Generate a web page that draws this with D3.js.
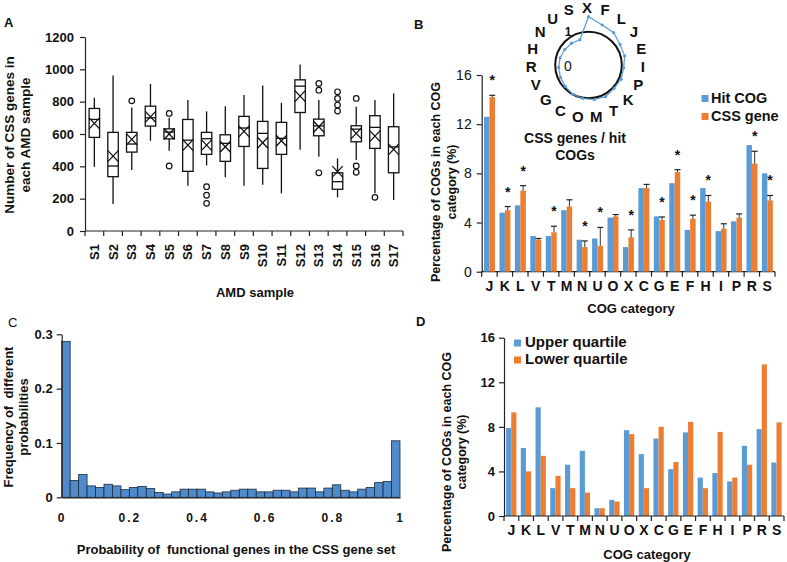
<!DOCTYPE html>
<html>
<head>
<meta charset="utf-8">
<script src="https://cdn.jsdelivr.net/npm/d3@7"></script>
<style>
  body { margin: 0; background: #fff; }
  text { font-family: Arial, "Liberation Sans", sans-serif; fill: #111; white-space: pre; }
</style>
</head>
<body>
<svg id="fig" width="787" height="562"></svg>
<script>
// ---- A: CSS genes per AMD sample (box plot stats)
const samples = ["S1","S2","S3","S4","S5","S6","S7","S8","S9","S10","S11","S12","S13","S14","S15","S16","S17"];
const whiskerLo = [397,167,377,558,496,280,406,332,280,286,233,502,459,208,439,233,192];
const q1 =        [579,336,488,649,570,369,474,431,523,387,474,733,589,258,552,511,360];
const medianA =   [690,402,538,700,612,562,571,542,637,604,573,896,650,305,630,641,520];
const q3 =        [758,610,610,772,632,690,610,595,709,678,672,935,692,360,651,713,645];
const whiskerHi = [824,962,764,910,700,810,740,772,842,900,793,1030,810,449,768,810,851];
const meanA =     [666,463,567,706,600,531,531,521,616,546,558,834,645,367,604,587,505];
const outliers = [[],[],[805],[],[727,402],[],[274,221,171],[],[],[],[],[],[913,871,360],[861,820,779,742],[820,402,363],[208],[]];

// ---- B: COG category percentages
const cogCats = ["J","K","L","V","T","M","N","U","O","X","C","G","E","F","H","I","P","R","S"];
const hitCOG  = [12.6,4.8,5.4,2.9,2.9,5.0,2.6,2.7,4.4,2.0,6.8,4.5,7.2,3.4,6.8,3.3,4.1,10.3,8.0];
const cssGene = [14.2,5.0,6.6,2.6,3.2,5.3,2.0,2.1,4.5,2.8,6.8,4.2,8.1,4.3,5.7,3.5,4.4,8.8,5.8];
const cssErr  = [0.15,0.3,0.4,0.1,0.5,0.55,0.5,1.5,0.15,0.6,0.3,0.25,0.2,0.3,0.5,0.4,0.3,1.0,0.4];
const signif  = [1,1,1,0,1,0,1,1,0,1,0,1,1,1,1,0,0,1,1];

// ---- B inset: CSS genes / hit COGs (radar)
const radarCats  = ["X","F","L","J","E","I","P","K","T","M","O","C","G","V","R","H","N","U","S"];
const radarRatio = [1.45,1.27,1.23,1.13,1.12,1.06,1.07,1.04,1.08,1.05,1.02,1.0,0.95,0.92,0.9,0.88,0.85,0.83,0.8];

// ---- C: probability histogram (40 bins of 0.025)
const probFreq = [0.287,0.031,0.042,0.021,0.018,0.024,0.021,0.014,0.018,0.020,
                  0.016,0.009,0.006,0.010,0.015,0.015,0.015,0.010,0.008,0.010,
                  0.013,0.015,0.015,0.010,0.010,0.013,0.013,0.010,0.017,0.017,
                  0.010,0.017,0.023,0.013,0.010,0.015,0.018,0.027,0.029,0.104];

// ---- D: quartile COG percentages
const upperQ = [7.9,6.1,9.75,2.5,4.6,5.85,0.7,1.45,7.7,5.55,6.95,4.2,7.5,3.45,3.85,3.1,6.3,7.8,4.8];
const lowerQ = [9.3,4.0,5.4,3.6,2.5,2.1,0.7,1.3,7.35,2.5,8.0,4.85,8.45,2.5,7.55,3.45,4.6,13.6,8.4];

const BLUE = "#5b9bd5", ORANGE = "#ed7d31";
const svg = d3.select("#fig");
svg.append("rect").attr("width", 787).attr("height", 562).attr("fill", "#fff");

function label(g, x, y, txt, size, opts = {}) {
  return g.append("text")
    .attr("x", x).attr("y", y)
    .attr("text-anchor", opts.anchor || "start")
    .style("font-size", size + "px")
    .style("font-weight", opts.bold === false ? "normal" : "bold")
    .text(txt);
}
function vTitle(g, lines, xs, cy, size) {
  lines.forEach((t, i) => {
    g.append("text")
      .attr("transform", `translate(${xs[i]},${cy}) rotate(-90)`)
      .attr("text-anchor", "middle")
      .style("font-size", size + "px")
      .style("font-weight", "bold")
      .text(t);
  });
}
function styleAxis(ax, size, bold) {
  ax.selectAll("path, line").attr("stroke", "#222").attr("stroke-width", 1.2);
  ax.selectAll("text")
    .style("font-family", 'Arial, "Liberation Sans", sans-serif')
    .style("font-size", size + "px")
    .style("font-weight", bold ? "bold" : "normal")
    .attr("fill", "#111");
}
function bandTicks(g, x, y0, len) {
  const edges = x.domain().map(d => x(d)).concat([x.range()[1]]);
  g.selectAll(null).data(edges).enter().append("line")
    .attr("x1", d => d).attr("x2", d => d)
    .attr("y1", y0).attr("y2", y0 + len)
    .attr("stroke", "#222").attr("stroke-width", 1.2);
  g.append("line").attr("x1", x.range()[0]).attr("x2", x.range()[1])
    .attr("y1", y0).attr("y2", y0).attr("stroke", "#222").attr("stroke-width", 1.2);
}

// ================= Panel A =================
{
  const g = svg.append("g");
  const y = d3.scaleLinear().domain([0, 1200]).range([231, 37]);
  const x = d3.scaleBand().domain(samples).range([85, 403]);
  const bw = x.bandwidth() * 0.56;

  const ay = g.append("g").attr("transform", "translate(85,0)")
    .call(d3.axisLeft(y).tickValues(d3.range(0, 1201, 200)).tickFormat(d3.format("d"))
      .tickSize(5).tickSizeOuter(0).tickPadding(6));
  styleAxis(ay, 13, true);
  bandTicks(g, x, 231, 5);

  samples.forEach((s, i) => {
    const cx = x(s) + x.bandwidth() / 2;
    const bx = g.append("g");
    bx.append("line").attr("x1", cx).attr("x2", cx).attr("y1", y(whiskerHi[i])).attr("y2", y(q3[i]));
    bx.append("line").attr("x1", cx).attr("x2", cx).attr("y1", y(q1[i])).attr("y2", y(whiskerLo[i]));
    bx.append("rect").attr("x", cx - bw / 2).attr("y", y(q3[i]))
      .attr("width", bw).attr("height", y(q1[i]) - y(q3[i])).attr("fill", "#fff");
    bx.append("line").attr("x1", cx - bw / 2).attr("x2", cx + bw / 2).attr("y1", y(medianA[i])).attr("y2", y(medianA[i]));
    const my = y(meanA[i]), hx = bw / 2, hy = 5.5;
    bx.append("line").attr("x1", cx - hx).attr("x2", cx + hx).attr("y1", my - hy).attr("y2", my + hy);
    bx.append("line").attr("x1", cx - hx).attr("x2", cx + hx).attr("y1", my + hy).attr("y2", my - hy);
    bx.selectAll("line, rect").attr("stroke", "#111").attr("stroke-width", 1.3);
    outliers[i].forEach(v => {
      g.append("circle").attr("cx", cx).attr("cy", y(v)).attr("r", 2.8)
        .attr("fill", "#fff").attr("stroke", "#111").attr("stroke-width", 1.2);
    });
    g.append("text")
      .attr("transform", `translate(${cx},244) rotate(-90)`)
      .attr("text-anchor", "end").attr("dy", "0.35em")
      .style("font-size", "13px").style("font-weight", "bold").text(s);
  });

  vTitle(g, ["Number of CSS genes in", "each AMD sample"], [14, 30], 135, 13.5);
  label(g, 255, 297, "AMD sample", 13, { anchor: "middle" });
  label(g, 4, 27, "A", 13);
}

// ================= Panel B =================
{
  const g = svg.append("g");
  const y = d3.scaleLinear().domain([0, 16]).range([271.7, 75]);
  const x = d3.scaleBand().domain(cogCats).range([481.7, 775]);
  const inner = d3.scaleBand().domain(["hit", "css"]).range([x.bandwidth() * 0.15, x.bandwidth() * 0.86]);

  const ay = g.append("g").attr("transform", "translate(481.7,0)")
    .call(d3.axisLeft(y).tickValues([0, 4, 8, 12, 16]).tickSize(5).tickSizeOuter(0).tickPadding(5));
  styleAxis(ay, 14, false);
  bandTicks(g, x, 271.7, 5);

  cogCats.forEach((c, i) => {
    const x0 = x(c);
    g.append("rect").attr("x", x0 + inner("hit")).attr("y", y(hitCOG[i]))
      .attr("width", inner.bandwidth()).attr("height", y(0) - y(hitCOG[i])).attr("fill", BLUE);
    g.append("rect").attr("x", x0 + inner("css")).attr("y", y(cssGene[i]))
      .attr("width", inner.bandwidth()).attr("height", y(0) - y(cssGene[i])).attr("fill", ORANGE);
    const ex = x0 + inner("css") + inner.bandwidth() / 2;
    const top = y(cssGene[i] + cssErr[i]);
    g.append("line").attr("x1", ex).attr("x2", ex).attr("y1", y(cssGene[i])).attr("y2", top)
      .attr("stroke", "#333").attr("stroke-width", 1);
    g.append("line").attr("x1", ex - 3).attr("x2", ex + 3).attr("y1", top).attr("y2", top)
      .attr("stroke", "#222").attr("stroke-width", 1.2);
    if (signif[i]) label(g, ex, top - 10, "*", 14, { anchor: "middle" });
    label(g, x0 + x.bandwidth() / 2, 291, c, 14, { anchor: "middle" });
  });

  // legend
  g.append("rect").attr("x", 701.5).attr("y", 95).attr("width", 7).attr("height", 7).attr("fill", BLUE);
  label(g, 711, 102.5, "Hit COG", 14.5);
  g.append("rect").attr("x", 701.5).attr("y", 113).attr("width", 7).attr("height", 7).attr("fill", ORANGE);
  label(g, 711, 120.5, "CSS gene", 14.5);

  vTitle(g, ["Percentage of COGs in each COG", "category (%)"], [440, 456], 182, 12.5);
  label(g, 631, 313, "COG category", 13, { anchor: "middle" });
  label(g, 414, 29, "B", 13);

  // radar inset
  const cx = 588.5, cy = 65;
  const r = d3.scaleLinear().domain([0, 1]).range([0, 33.3]);
  const ang = i => i * 2 * Math.PI / radarCats.length;
  g.append("circle").attr("cx", cx).attr("cy", cy).attr("r", r(1))
    .attr("fill", "none").attr("stroke", "#111").attr("stroke-width", 2);
  const pts = radarRatio.map((v, i) => [cx + r(v) * Math.sin(ang(i)), cy - r(v) * Math.cos(ang(i))]);
  g.append("path").attr("d", d3.line().curve(d3.curveLinearClosed)(pts))
    .attr("fill", "none").attr("stroke", BLUE).attr("stroke-width", 1.2);
  g.selectAll(null).data(pts).enter().append("circle")
    .attr("cx", d => d[0]).attr("cy", d => d[1]).attr("r", 1.6).attr("fill", BLUE);
  radarCats.forEach((c, i) => {
    label(g, 587 + 56 * Math.sin(ang(i)), 62 - 55 * Math.cos(ang(i)) + 5.5, c, 15, { anchor: "middle" });
  });
  label(g, 568, 36, "1", 12, { anchor: "middle" });
  label(g, 568, 71, "0", 14, { anchor: "middle", bold: false });
  label(g, 575, 143, "CSS genes / hit", 14, { anchor: "middle" });
  label(g, 575, 160, "COGs", 14, { anchor: "middle" });
}

// ================= Panel C =================
{
  const g = svg.append("g");
  const y = d3.scaleLinear().domain([0, 0.3]).range([497.3, 334.3]);
  const x = d3.scaleLinear().domain([0, 1]).range([61.7, 400]);
  const binW = 1 / probFreq.length;

  g.selectAll(null).data(probFreq).enter().append("rect")
    .attr("x", (d, i) => x(i * binW)).attr("y", d => y(d))
    .attr("width", (d, i) => x((i + 1) * binW) - x(i * binW)).attr("height", d => y(0) - y(d))
    .attr("fill", "#4f8acb").attr("stroke", "#1c2c3c").attr("stroke-width", 0.8);

  const ay = g.append("g").attr("transform", "translate(61.7,0)")
    .call(d3.axisLeft(y).tickValues([0, 0.1, 0.2, 0.3]).tickFormat(d3.format("~g")).tickSize(5).tickSizeOuter(0).tickPadding(4));
  styleAxis(ay, 13, true);
  const ax = g.append("g").attr("transform", "translate(0,497.3)")
    .call(d3.axisBottom(x).tickValues([0, 0.2, 0.4, 0.6, 0.8, 1]).tickFormat(d3.format("~g")).tickSize(0).tickSizeOuter(0).tickPadding(16));
  styleAxis(ax, 12, true);
  ax.selectAll("text").style("letter-spacing", "2px");

  vTitle(g, ["Frequency of  different", "probabilities"], [13, 28], 417, 13);
  label(g, 236, 554, "Probability of  functional genes in the CSS gene set", 13, { anchor: "middle" });
  label(g, 8, 327, "C", 13, { bold: false });
}

// ================= Panel D =================
{
  const g = svg.append("g");
  const y = d3.scaleLinear().domain([0, 16]).range([516, 337.7]);
  const x = d3.scaleBand().domain(cogCats).range([504, 784]);
  const inner = d3.scaleBand().domain(["up", "low"]).range([x.bandwidth() * 0.14, x.bandwidth() * 0.84]);

  cogCats.forEach((c, i) => {
    const x0 = x(c);
    g.append("rect").attr("x", x0 + inner("up")).attr("y", y(upperQ[i]))
      .attr("width", inner.bandwidth()).attr("height", y(0) - y(upperQ[i])).attr("fill", BLUE);
    g.append("rect").attr("x", x0 + inner("low")).attr("y", y(lowerQ[i]))
      .attr("width", inner.bandwidth()).attr("height", y(0) - y(lowerQ[i])).attr("fill", ORANGE);
    label(g, x0 + x.bandwidth() / 2, 535, c, 14, { anchor: "middle" });
  });

  const ay = g.append("g").attr("transform", "translate(504,0)")
    .call(d3.axisLeft(y).tickValues([0, 4, 8, 12, 16]).tickSize(5).tickSizeOuter(0).tickPadding(4));
  styleAxis(ay, 13, true);
  bandTicks(g, x, 516, 5);

  g.append("rect").attr("x", 514).attr("y", 339.5).attr("width", 7).attr("height", 7).attr("fill", BLUE);
  label(g, 525, 347, "Upper quartile", 15);
  g.append("rect").attr("x", 514).attr("y", 356.5).attr("width", 7).attr("height", 7).attr("fill", ORANGE);
  label(g, 525, 364, "Lower quartile", 15);

  vTitle(g, ["Percentage of COGs in each COG", "category (%)"], [451, 466], 452, 12.5);
  label(g, 647, 559, "COG category", 13, { anchor: "middle" });
  label(g, 416, 326, "D", 13);
}
</script>
</body>
</html>
